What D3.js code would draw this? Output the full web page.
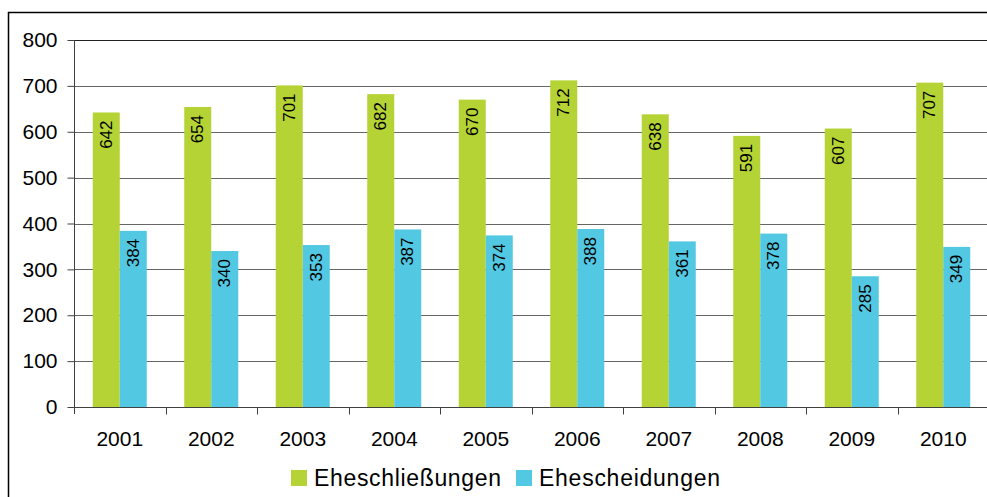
<!DOCTYPE html>
<html>
<head>
<meta charset="utf-8">
<script src="https://cdn.jsdelivr.net/npm/d3@7"></script>
<style>
  html, body { margin: 0; padding: 0; background: #fff; }
  svg { display: block; font-family: "Liberation Sans", Arial, sans-serif; }
</style>
</head>
<body>
<svg id="chart" width="987" height="497"></svg>
<script>
// Marriages and divorces per year
const years = ["2001", "2002", "2003", "2004", "2005", "2006", "2007", "2008", "2009", "2010"];
const marriages = [642, 654, 701, 682, 670, 712, 638, 591, 607, 707];
const divorces = [384, 340, 353, 387, 374, 388, 361, 378, 285, 349];
const seriesNames = ["Eheschließungen", "Ehescheidungen"];
const yTicks = [0, 100, 200, 300, 400, 500, 600, 700, 800];

const colors = ["#b5d334", "#53c8e2"];
const svg = d3.select("#chart");

// outer frame (open to the right and bottom)
svg.append("path")
  .attr("d", "M8.5,497 L8.5,12.5 L987,12.5")
  .attr("fill", "none").attr("stroke", "#000").attr("stroke-width", 1.5);

const plot = { left: 74, right: 989, top: 40, bottom: 407 };

const x = d3.scaleBand().domain(years).range([plot.left, plot.right]).paddingInner(0).paddingOuter(0);
const y = d3.scaleLinear().domain([0, 800]).range([plot.bottom, plot.top]);

// horizontal gridlines
svg.append("g").selectAll("line").data(yTicks.filter(d => d > 0)).join("line")
  .attr("x1", plot.left).attr("x2", plot.right + 5)
  .attr("y1", d => Math.round(y(d)) + 0.5).attr("y2", d => Math.round(y(d)) + 0.5)
  .attr("stroke", d => d === 800 ? "#222" : "#666").attr("stroke-width", 1);

// bars
const series = [marriages, divorces];
const barW = 27;
const groupOffset = (x.bandwidth() - 2 * barW) / 2;

series.forEach((vals, si) => {
  const g = svg.append("g");
  g.selectAll("rect").data(vals).join("rect")
    .attr("x", (d, i) => x(years[i]) + groupOffset + si * barW)
    .attr("y", d => y(d))
    .attr("width", barW)
    .attr("height", d => y(0) - y(d))
    .attr("fill", colors[si]);

  // value labels, rotated and placed at the top inside each bar
  g.selectAll("text").data(vals).join("text")
    .attr("transform", (d, i) => {
      const cx = x(years[i]) + groupOffset + si * barW + barW / 2;
      return `translate(${cx},${y(d) + 8}) rotate(-90)`;
    })
    .attr("text-anchor", "end")
    .attr("dominant-baseline", "central")
    .attr("font-size", 17)
    .attr("fill", "#000")
    .text(d => d);
});

// y axis
const yAxis = d3.axisLeft(y).tickValues(yTicks).tickSize(7).tickPadding(10);
const gy = svg.append("g").attr("transform", `translate(${plot.left + 0.5},0)`).call(yAxis);
gy.select(".domain").attr("d", `M0,${plot.top}V${plot.bottom + 7}`).attr("stroke", "#404040");
gy.selectAll(".tick line").attr("stroke", "#404040");
gy.selectAll(".tick text").attr("font-size", 21).attr("fill", "#000")
  .attr("font-family", "Liberation Sans, Arial, sans-serif");

// x axis with ticks at category boundaries
const gx = svg.append("g").attr("transform", `translate(0,${plot.bottom + 0.5})`);
gx.append("line").attr("x1", plot.left).attr("x2", plot.right + 5)
  .attr("stroke", "#404040");
const bounds = years.slice(1).map(d => x(d));
gx.selectAll("line.tk").data(bounds).join("line").attr("class", "tk")
  .attr("x1", d => Math.round(d) + 0.5).attr("x2", d => Math.round(d) + 0.5)
  .attr("y1", 0).attr("y2", 7).attr("stroke", "#404040");
gx.selectAll("text").data(years).join("text")
  .attr("x", d => x(d) + x.bandwidth() / 2)
  .attr("y", 38)
  .attr("text-anchor", "middle")
  .attr("font-size", 21)
  .attr("fill", "#000")
  .text(d => d);

// legend
const legend = [
  { name: seriesNames[0], color: colors[0], sx: 291, tx: 314, w: 187 },
  { name: seriesNames[1], color: colors[1], sx: 516, tx: 539, w: 181 }
];
const lg = svg.append("g");
legend.forEach(l => {
  lg.append("rect").attr("x", l.sx).attr("y", 470).attr("width", 16).attr("height", 16).attr("fill", l.color);
  lg.append("text").attr("x", l.tx).attr("y", 486)
    .attr("font-size", 23).attr("fill", "#000")
    .attr("textLength", l.w).attr("lengthAdjust", "spacing")
    .text(l.name);
});
</script>
</body>
</html>
